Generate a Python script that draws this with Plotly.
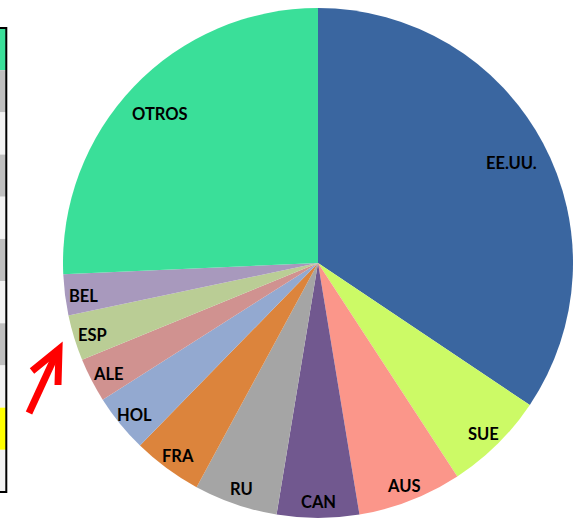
import math
import plotly.graph_objects as go

# ---- data ----
labels = ["EE.UU.", "SUE", "AUS", "CAN", "RU", "FRA", "HOL", "ALE", "ESP", "BEL", "OTROS"]
values = [34.4, 6.4, 6.6, 5.2, 5.3, 4.4, 3.7, 2.8, 2.9, 2.6, 25.7]
colors = ["#3A66A0", "#CCFA66", "#FB968A", "#71588F", "#A5A5A5", "#DC843C",
          "#93A9D0", "#D09290", "#BACD95", "#A899BD", "#3ADF99"]
table_colors = ["#3ADF99", "#BFBFBF", "#F2F2F2", "#BFBFBF", "#F2F2F2", "#BFBFBF",
                "#F2F2F2", "#BFBFBF", "#F2F2F2", "#FFFF00", "#F2F2F2"]

W, H = 574, 519
cx, cy, R = 318, 263, 255

fig = go.Figure()
fig.add_trace(go.Pie(
    labels=labels, values=values, sort=False, direction="clockwise", rotation=0,
    marker=dict(colors=colors, line=dict(width=0)),
    textinfo="none", hoverinfo="label+percent", showlegend=False,
    domain=dict(x=[(cx - R) / W, (cx + R) / W], y=[1 - (cy + R) / H, 1 - (cy - R) / H]),
))

# labels inside slices, positioned from the slice mid-angles
total = sum(values)
cum = 0.0
annotations = []
for lab, v in zip(labels, values):
    mid = (cum + v / 2) / total * 2 * math.pi
    cum += v
    frac = 0.86 if v > 20 else 0.925
    x = cx + frac * R * math.sin(mid)
    y = cy - frac * R * math.cos(mid)
    annotations.append(dict(x=x, y=y, xref="x", yref="y", text=lab, showarrow=False,
                            xanchor="center", yanchor="middle", yshift=-3,
                            font=dict(family="Lato", size=16.5, color="#000000", weight="bold")))

# decorative partial table at left
shapes = []
top, bottom = 28, 492
rh = (bottom - top) / len(table_colors)
for i, c in enumerate(table_colors):
    shapes.append(dict(type="rect", xref="x", yref="y", x0=-2, x1=6,
                       y0=top + i * rh, y1=top + (i + 1) * rh,
                       fillcolor=c, line=dict(width=0), layer="above"))
shapes.append(dict(type="path", xref="x", yref="y",
                   path=f"M -2 {top} L 6.3 {top} L 6.3 {bottom} L -2 {bottom}",
                   line=dict(color="#000000", width=2), layer="above"))

# red arrow
shapes.append(dict(type="path", xref="x", yref="y",
                   path="M 29 413 L 58 350", line=dict(color="#FF0000", width=7), layer="above"))
shapes.append(dict(type="path", xref="x", yref="y",
                   path="M 32 371 L 59 349 L 58 385", line=dict(color="#FF0000", width=7), layer="above"))

fig.update_layout(
    width=W, height=H, margin=dict(l=0, r=0, t=0, b=0),
    paper_bgcolor="white", plot_bgcolor="rgba(0,0,0,0)",
    xaxis=dict(range=[0, W], visible=False, fixedrange=True),
    yaxis=dict(range=[H, 0], visible=False, fixedrange=True),
    annotations=annotations, shapes=shapes,
)

fig.write_html("out.html", config={"displayModeBar": False},
               post_script="document.body.style.margin='0';document.body.style.overflow='hidden';")
